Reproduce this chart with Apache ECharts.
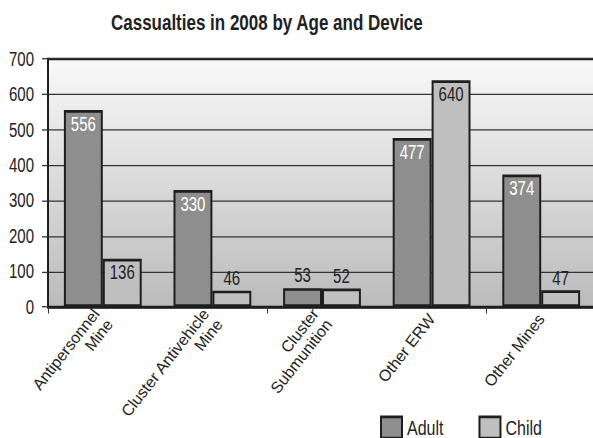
<!DOCTYPE html>
<html>
<head>
<meta charset="utf-8">
<script src="https://cdn.jsdelivr.net/npm/echarts@6/dist/echarts.min.js"></script>
<style>
  html, body { margin: 0; padding: 0; background: #fff; width: 593px; height: 438px; }
  body { position: relative; }
  /* The bars, value axis, title and legend are laid out on a shorter
     canvas and stretched vertically, giving the tall, condensed lettering
     of the printed figure. */
  #stage { position: absolute; left: 0; top: 0; width: 593px; height: 332px;
           transform: scaleY(1.3193); transform-origin: 0 0; }
  #chart { width: 593px; height: 332px; }
  /* Category names sit on an unstretched layer so the slanted text stays upright. */
  #labels { position: absolute; left: 0; top: 0; width: 593px; height: 438px; pointer-events: none; }
</style>
</head>
<body>
<div id="stage"><div id="chart"></div></div>
<div id="labels"></div>
<script>
// Casualty counts by device type, split by age group
const devices = ['Antipersonnel\nMine', 'Cluster Antivehicle\nMine', 'Cluster\nSubmunition', 'Other ERW', 'Other Mines'];
const adult = [556, 330, 53, 477, 374];
const child = [136, 46, 52, 640, 47];
const yTicks = { min: 0, max: 700, step: 100 };

const FONT = '"Liberation Sans", Arial, sans-serif';
const STRETCH = 438 / 332;

// Tall bars carry their value inside the top; short ones show it above
function withLabels(values, insideColor) {
  return values.map(v => ({
    value: v,
    label: v > 100
      ? { position: 'insideTop', color: insideColor, distance: 3 }
      : { position: 'top', color: '#222', distance: 2 }
  }));
}

const chart = echarts.init(document.getElementById('chart'), null, { renderer: 'svg', width: 593, height: 332 });

chart.setOption({
  animation: false,
  title: {
    text: 'Cassualties in 2008 by Age and Device',
    left: 111,
    top: 8,
    padding: 0,
    textStyle: { fontFamily: FONT, fontSize: 17, fontWeight: 'bold', color: '#222' }
  },
  legend: {
    left: 380,
    top: 315,
    padding: 0,
    icon: 'rect',
    itemWidth: 21,
    itemHeight: 16,
    itemGap: 35,
    textStyle: { fontFamily: FONT, fontSize: 16, color: '#222' },
    data: [
      { name: 'Adult', itemStyle: { color: '#8e8e8e', borderColor: '#1e1e1e', borderWidth: 2 } },
      { name: 'Child', itemStyle: { color: '#bfbfbf', borderColor: '#1e1e1e', borderWidth: 2 } }
    ]
  },
  grid: {
    left: 48,
    right: -3,
    top: 59 / STRETCH,
    bottom: 332 - 307 / STRETCH,
    outerBoundsMode: 'none',
    containLabel: false,
    show: true,
    borderColor: '#1e1e1e',
    borderWidth: 2,
    backgroundColor: {
      type: 'linear', x: 0, y: 0, x2: 0, y2: 1,
      colorStops: [
        { offset: 0, color: '#f9f9f9' },
        { offset: 1, color: '#bbbbbb' }
      ]
    }
  },
  xAxis: {
    type: 'category',
    data: devices,
    axisLine: { lineStyle: { color: '#1e1e1e', width: 2 } },
    axisTick: { show: true, length: 5, lineStyle: { color: '#333' } },
    axisLabel: { show: false }
  },
  yAxis: {
    type: 'value',
    min: yTicks.min,
    max: yTicks.max,
    interval: yTicks.step,
    axisLine: { show: true, lineStyle: { color: '#1e1e1e', width: 2 } },
    axisTick: { show: true, length: 6, lineStyle: { color: '#333' } },
    axisLabel: { fontFamily: FONT, fontSize: 15, color: '#222', margin: 14 },
    splitLine: { lineStyle: { color: '#333', width: 1 } }
  },
  series: [
    {
      name: 'Adult',
      type: 'bar',
      data: withLabels(adult, '#fff'),
      barGap: '0%',
      barCategoryGap: '29%',
      itemStyle: { color: '#8e8e8e', borderColor: '#1e1e1e', borderWidth: 2 },
      label: { show: true, fontFamily: FONT, fontSize: 15 }
    },
    {
      name: 'Child',
      type: 'bar',
      data: withLabels(child, '#222'),
      barGap: '0%',
      barCategoryGap: '29%',
      itemStyle: { color: '#bfbfbf', borderColor: '#1e1e1e', borderWidth: 2 },
      label: { show: true, fontFamily: FONT, fontSize: 15 }
    }
  ]
});

// Category axis labels on the full-size layer, same horizontal layout as the plot
const labelLayer = echarts.init(document.getElementById('labels'), null, { renderer: 'svg', width: 593, height: 438 });
labelLayer.setOption({
  animation: false,
  grid: { left: 48, right: -3, top: 59, bottom: 131, outerBoundsMode: 'none', containLabel: false },
  xAxis: {
    type: 'category',
    data: devices,
    axisLine: { show: false },
    axisTick: { show: false },
    axisLabel: {
      rotate: 52,
      interval: 0,
      margin: 9,
      align: 'right',
      fontFamily: FONT,
      fontSize: 16,
      lineHeight: 17,
      color: '#222'
    }
  },
  yAxis: { type: 'value', show: false, min: yTicks.min, max: yTicks.max },
  series: []
});
</script>
</body>
</html>
